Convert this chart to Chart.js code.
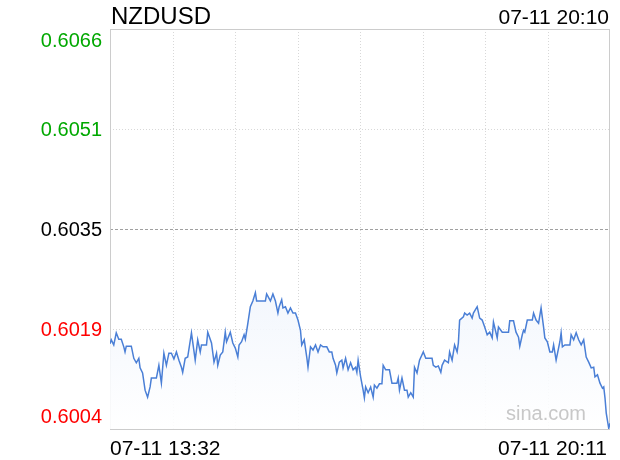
<!DOCTYPE html>
<html>
<head>
<meta charset="utf-8">
<script src="https://cdn.jsdelivr.net/npm/chart.js@4.4.1/dist/chart.umd.min.js"></script>
<style>
  html, body { margin: 0; padding: 0; background: #fff; }
  canvas { display: block; }
</style>
</head>
<body>
<canvas id="fxChart" width="620" height="460"></canvas>
<script>
// minutes after 07-11 13:32
const minutes = [0,1,3,5,7,9,11,12,13,17,19,21,23,24,26,28,30,32,33,37,39,41,43,45,47,49,51,53,55,57,58,60,62,65,68,70,72,73,77,78,81,83,85,86,88,90,92,93,96,98,100,102,103,105,107,108,110,112,114,116,117,124,125,128,130,132,134,135,137,138,140,142,144,146,148,150,152,153,155,157,158,160,162,164,166,168,170,173,175,177,178,180,181,183,185,186,188,190,192,194,196,197,198,200,
  202,203,204,206,208,210,211,213,215,217,218,220,223,225,229,230,231,233,235,237,238,240,242,243,245,247,250,252,257,258,260,262,264,265,267,270,271,273,275,277,278,279,282,283,285,287,289,290,293,295,297,299,301,303,305,306,309,310,313,315,318,319,322,324,326,327,329,330,331,333,337,338,340,342,344,346,347,349,351,353,354,356,359,360,361,363,367,368,370,372,374,376,378,380,382,384,386,387,389,391,393,394,395,396,398,399];
const prices = [0.60170,0.60176,0.60168,0.60187,0.60177,0.60177,0.60165,0.60157,0.60166,0.60166,0.60147,0.60140,0.60147,0.60132,0.60124,0.60097,0.60086,0.60102,0.60116,0.60116,0.60136,0.60108,0.60155,0.60136,0.60155,0.60155,0.60146,0.60157,0.60144,0.60133,0.60125,0.60147,0.60149,0.60187,0.60144,0.60176,0.60157,0.60168,0.60168,0.60188,0.60171,0.60141,0.60155,0.60136,0.60152,0.60157,0.60188,0.60173,0.60188,0.60171,0.60163,0.60149,0.60168,0.60173,0.60184,0.60177,0.60202,0.60228,0.60237,0.60250,0.60237,0.60237,0.60248,0.60237,0.60248,0.60237,0.60218,0.60228,0.60239,0.60226,0.60228,0.60218,0.60226,0.60218,0.60218,0.60207,0.60191,0.60168,0.60176,0.60149,0.60133,0.60165,0.60160,0.60168,0.60157,0.60168,0.60165,0.60165,0.60157,0.60157,0.60147,0.60136,0.60124,0.60141,0.60144,0.60132,0.60147,0.60129,0.60140,0.60129,0.60133,0.60125,0.60144,0.60118,
  0.60097,0.60085,0.60102,0.60093,0.60102,0.60086,0.60105,0.60100,0.60107,0.60107,0.60136,0.60129,0.60129,0.60108,0.60108,0.60116,0.60097,0.60116,0.60097,0.60097,0.60086,0.60093,0.60086,0.60133,0.60124,0.60144,0.60157,0.60147,0.60147,0.60136,0.60133,0.60135,0.60125,0.60136,0.60144,0.60140,0.60157,0.60144,0.60168,0.60157,0.60171,0.60207,0.60212,0.60218,0.60215,0.60218,0.60210,0.60218,0.60228,0.60210,0.60207,0.60196,0.60184,0.60188,0.60179,0.60204,0.60179,0.60196,0.60188,0.60188,0.60188,0.60206,0.60206,0.60188,0.60180,0.60166,0.60184,0.60191,0.60188,0.60207,0.60207,0.60218,0.60207,0.60202,0.60226,0.60196,0.60179,0.60173,0.60157,0.60157,0.60168,0.60144,0.60173,0.60187,0.60165,0.60168,0.60168,0.60184,0.60176,0.60187,0.60176,0.60168,0.60176,0.60149,0.60141,0.60132,0.60133,0.60118,0.60121,0.60108,0.60100,0.60102,0.60085,0.60061,0.60037,0.60045];

const yTickValues = [0.60664, 0.60507, 0.60350, 0.60193, 0.60036];
const yTickLabels = ['0.6066', '0.6051', '0.6035', '0.6019', '0.6004'];
const prevClose = 0.60350;
const symbol = 'NZDUSD';
const quoteTime = '07-11 20:10';
const startLabel = '07-11 13:32';
const endLabel = '07-11 20:11';
const xSpan = 399;

const FONT = '"Liberation Sans", Arial, Helvetica, sans-serif';

const framePlugin = {
  id: 'frame',
  beforeDatasetsDraw(chart) {
    const { ctx, chartArea: a, scales } = chart;
    ctx.save();
    ctx.lineWidth = 1;
    // vertical dotted grid, 8 divisions
    ctx.strokeStyle = '#d8d8d8';
    ctx.setLineDash([1, 2]);
    for (let i = 1; i < 8; i++) {
      const x = Math.round(scales.x.getPixelForValue(xSpan * i / 8)) + 0.5;
      ctx.beginPath(); ctx.moveTo(x, a.top); ctx.lineTo(x, a.bottom); ctx.stroke();
    }
    yTickValues.forEach(v => {
      if (v === yTickValues[0] || v === yTickValues[yTickValues.length - 1]) return;
      const y = Math.round(scales.y.getPixelForValue(v)) + 0.5;
      if (v === prevClose) { ctx.strokeStyle = '#a0a0a0'; ctx.setLineDash([3, 2]); }
      else { ctx.strokeStyle = '#d8d8d8'; ctx.setLineDash([1, 2]); }
      ctx.beginPath(); ctx.moveTo(a.left, y); ctx.lineTo(a.right, y); ctx.stroke();
    });
    ctx.setLineDash([]);
    ctx.strokeStyle = '#cccccc';
    ctx.strokeRect(a.left + 0.5, a.top + 0.5, a.right - a.left - 1, a.bottom - a.top);
    ctx.restore();
  },
  afterDatasetsDraw(chart) {
    const { ctx } = chart;
    ctx.save();
    ctx.fillStyle = '#c8c8c8';
    ctx.font = '20px ' + FONT;
    ctx.textAlign = 'left';
    ctx.textBaseline = 'alphabetic';
    ctx.fillText('sina.com', 506, 420);
    ctx.restore();
  },
  afterDraw(chart) {
    const { ctx, chartArea: a, scales } = chart;
    ctx.save();
    ctx.textBaseline = 'alphabetic';
    ctx.font = '20px ' + FONT;
    ctx.textAlign = 'right';
    yTickValues.forEach((v, i) => {
      const y = scales.y.getPixelForValue(v);
      let base = y + 7;
      if (i === 0) base = y + 18;
      if (i === yTickValues.length - 1) base = y - 6;
      ctx.fillStyle = v > prevClose + 1e-7 ? '#00a800' : (v < prevClose - 1e-7 ? '#ff0000' : '#000000');
      ctx.fillText(yTickLabels[i], a.left - 8, base);
    });
    ctx.fillStyle = '#000';
    ctx.font = '24px ' + FONT;
    ctx.textAlign = 'left';
    ctx.fillText(symbol, a.left + 1, 24);
    ctx.font = '21px ' + FONT;
    ctx.textAlign = 'right';
    ctx.fillText(quoteTime, a.right - 1, 24);
    ctx.textAlign = 'left';
    ctx.fillText(startLabel, a.left, 455);
    ctx.textAlign = 'right';
    ctx.fillText(endLabel, a.right - 3, 455);
    ctx.restore();
  }
};

new Chart(document.getElementById('fxChart'), {
  type: 'line',
  data: {
    datasets: [{
      data: minutes.map((m, i) => ({ x: m, y: prices[i] })),
      borderColor: '#4a7fd6',
      borderWidth: 1.5,
      pointRadius: 0,
      tension: 0,
      fill: 'start',
      backgroundColor(c) {
        const a = c.chart.chartArea;
        if (!a) return 'rgba(230,238,250,0.6)';
        const g = c.chart.ctx.createLinearGradient(0, a.top, 0, a.bottom);
        g.addColorStop(0, 'rgba(215,228,248,0.9)');
        g.addColorStop(1, 'rgba(255,255,255,0.9)');
        return g;
      }
    }]
  },
  options: {
    responsive: false,
    animation: false,
    events: [],
    layout: { padding: { left: 110, top: 29, right: 10, bottom: 31 } },
    plugins: { legend: { display: false }, tooltip: { enabled: false } },
    scales: {
      x: { type: 'linear', min: 0, max: xSpan, display: false },
      y: { min: yTickValues[yTickValues.length - 1], max: yTickValues[0], display: false }
    }
  },
  plugins: [framePlugin]
});
</script>
</body>
</html>
